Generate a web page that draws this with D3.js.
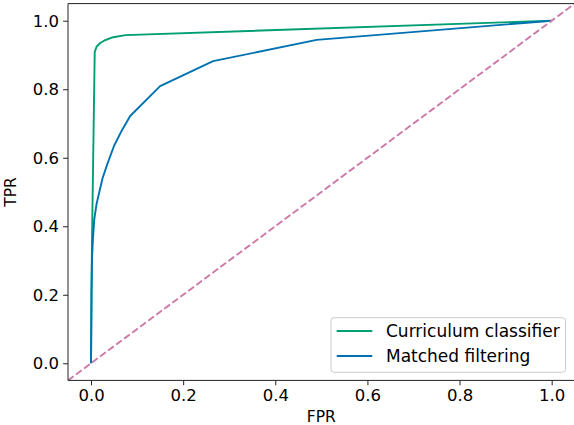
<!DOCTYPE html>
<html>
<head>
<meta charset="utf-8">
<script src="https://cdn.jsdelivr.net/npm/d3@7"></script>
<style>
  html, body { margin: 0; padding: 0; background: #fff; }
  svg { display: block; font-family: "DejaVu Sans", sans-serif; }
</style>
</head>
<body>
<svg id="chart" width="574" height="425"></svg>
<script>
// ---- data ----
const seriesNames = ["Curriculum classifier", "Matched filtering"];
const seriesColors = ["#009E73", "#0072B2"];
const fprCurriculum = [0, 0.001, 0.002, 0.008, 0.012, 0.02, 0.03, 0.045, 0.075, 1.0];
const tprCurriculum = [0, 0.20, 0.35, 0.909, 0.924, 0.935, 0.943, 0.951, 0.958, 1.0];
const fprMatched = [0, 0.001, 0.002, 0.004, 0.007, 0.012, 0.018, 0.025, 0.035, 0.05, 0.065, 0.085, 0.15, 0.265, 0.49, 1.0];
const tprMatched = [0, 0.20, 0.30, 0.36, 0.42, 0.465, 0.50, 0.54, 0.58, 0.635, 0.675, 0.722, 0.809, 0.882, 0.944, 1.0];
const diagonal = [-0.05, 1.05];
const xTicks = [0.0, 0.2, 0.4, 0.6, 0.8, 1.0];
const yTicks = [0.0, 0.2, 0.4, 0.6, 0.8, 1.0];
const xLabel = "FPR";
const yLabel = "TPR";

// ---- layout ----
const svg = d3.select("#chart");
const pLeft = 68, pRight = 574.7, pTop = 3.6, pBottom = 380.4;
const x = d3.scaleLinear().domain([-0.05, 1.05]).range([pLeft, pRight]);
const y = d3.scaleLinear().domain([-0.05, 1.05]).range([pBottom, pTop]);

svg.append("defs").append("clipPath").attr("id", "clip")
  .append("rect").attr("x", pLeft).attr("y", pTop).attr("width", pRight - pLeft).attr("height", pBottom - pTop);

const plot = svg.append("g").attr("clip-path", "url(#clip)");
const line = d3.line().x(d => x(d[0])).y(d => y(d[1]));

const series = [
  d3.zip(fprCurriculum, tprCurriculum),
  d3.zip(fprMatched, tprMatched)
];
series.forEach((pts, i) => {
  plot.append("path").datum(pts)
    .attr("d", line)
    .attr("fill", "none")
    .attr("stroke", seriesColors[i])
    .attr("stroke-width", 1.9)
    .attr("stroke-linejoin", "round")
    .attr("stroke-linecap", "butt");
});

plot.append("path").datum(diagonal.map(v => [v, v]))
  .attr("d", line)
  .attr("fill", "none")
  .attr("stroke", "#CC79A7")
  .attr("stroke-width", 1.9)
  .attr("stroke-dasharray", "7,3");

// ---- axes ----
const xAxis = d3.axisBottom(x).tickValues(xTicks).tickFormat(d3.format(".1f")).tickSize(4.9).tickPadding(4);
const yAxis = d3.axisLeft(y).tickValues(yTicks).tickFormat(d3.format(".1f")).tickSize(4.9).tickPadding(4);

const gx = svg.append("g").attr("transform", `translate(0,${pBottom})`).call(xAxis);
const gy = svg.append("g").attr("transform", `translate(${pLeft},0)`).call(yAxis);
[gx, gy].forEach(g => {
  g.select(".domain").remove();
  g.selectAll(".tick line").attr("stroke", "#222").attr("stroke-width", 1);
  g.selectAll(".tick text").attr("fill", "#000").style("font-size", "16.5px").style("font-family", "DejaVu Sans");
});

// spines
const spine = svg.append("g").attr("fill", "none").attr("stroke", "#222").attr("stroke-width", 1);
spine.append("line").attr("x1", pLeft).attr("x2", pLeft).attr("y1", pTop).attr("y2", pBottom);
spine.append("line").attr("x1", pLeft).attr("x2", pRight).attr("y1", pBottom).attr("y2", pBottom);
spine.append("line").attr("x1", pLeft).attr("x2", pRight).attr("y1", pTop).attr("y2", pTop);
spine.append("line").attr("x1", pRight).attr("x2", pRight).attr("y1", pTop).attr("y2", pBottom);

// axis labels
svg.append("text").attr("x", (x(0) + x(1)) / 2).attr("y", 421.5)
  .attr("text-anchor", "middle").style("font-size", "15.5px").attr("fill", "#000").text(xLabel);
svg.append("text").attr("transform", `translate(15.5,${(y(0) + y(1)) / 2}) rotate(-90)`)
  .attr("text-anchor", "middle").style("font-size", "15.5px").attr("fill", "#000").text(yLabel);

// ---- legend ----
const lg = svg.append("g");
lg.append("rect").attr("x", 331).attr("y", 317.7).attr("width", 234.5).attr("height", 54.6)
  .attr("rx", 3).attr("fill", "#fff").attr("fill-opacity", 0.8)
  .attr("stroke", "#cccccc").attr("stroke-width", 1);
seriesNames.forEach((name, i) => {
  const yy = 331 + i * 25;
  lg.append("line").attr("x1", 336.7).attr("x2", 372.3).attr("y1", yy).attr("y2", yy)
    .attr("stroke", seriesColors[i]).attr("stroke-width", 1.9);
  lg.append("text").attr("x", 386).attr("y", yy + 6).style("font-size", "17px")
    .attr("fill", "#000").text(name);
});
</script>
</body>
</html>
